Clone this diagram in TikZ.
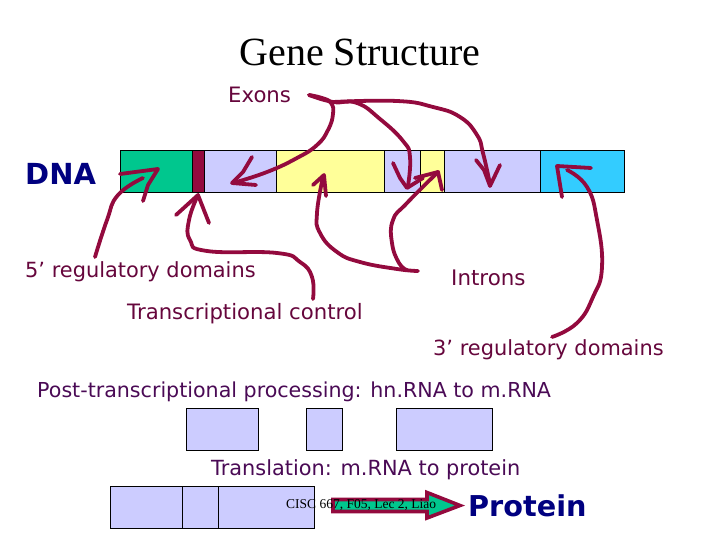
\documentclass[tikz,border=0pt]{standalone}
\usepackage{fontspec}
\setmainfont{DejaVu Sans}
\newfontfamily\serifface{Liberation Serif}
\definecolor{maroonink}{HTML}{930A3E}
\definecolor{labelmaroon}{HTML}{66063C}
\definecolor{labelplum}{HTML}{4A0A55}
\definecolor{exongreen}{HTML}{00C78E}
\definecolor{exonlav}{HTML}{CCCCFF}
\definecolor{intronyellow}{HTML}{FFFF99}
\definecolor{skyend}{HTML}{33CCFF}
\definecolor{navyink}{HTML}{000080}
\tikzset{
  seg/.style={draw=black,line width=0.9pt,minimum width=0pt,minimum height=0pt,inner sep=0pt,outer sep=0pt},
  ink/.style={draw=maroonink,line width=3.8pt,line cap=round,line join=round},
  lab/.style={inner sep=0pt,anchor=west},
}
\newcommand{\fs}[1]{\fontsize{#1}{#1}\selectfont}
\newcommand{\segbox}[6]{\node[seg,fill=#2,minimum width=#5-#3,minimum height=#6-#4,anchor=north west] (#1) at (#3,#4) {};}
\begin{document}
\begin{tikzpicture}[x=1pt,y=-1pt]
\useasboundingbox (0,0) rectangle (720,540);
% DNA bar
\segbox{g1}{exongreen}{120.5}{150.5}{192.5}{192.5}
\segbox{g2}{maroonink}{192.5}{150.5}{204.5}{192.5}
\segbox{g3}{exonlav}{204.5}{150.5}{276.5}{192.5}
\segbox{g4}{intronyellow}{276.5}{150.5}{384.5}{192.5}
\segbox{g5}{exonlav}{384.5}{150.5}{420.5}{192.5}
\segbox{g6}{intronyellow}{420.5}{150.5}{444.5}{192.5}
\segbox{g7}{exonlav}{444.5}{150.5}{540.5}{192.5}
\segbox{g8}{skyend}{540.5}{150.5}{624.5}{192.5}
% mRNA pieces
\segbox{m1}{exonlav}{186.5}{408.5}{258.5}{450.5}
\segbox{m2}{exonlav}{306.5}{408.5}{342.5}{450.5}
\segbox{m3}{exonlav}{396.5}{408.5}{492.5}{450.5}
\segbox{p1}{exonlav}{110.5}{486.5}{182.5}{528.5}
\segbox{p2}{exonlav}{182.5}{486.5}{218.5}{528.5}
\segbox{p3}{exonlav}{218.5}{486.5}{314.5}{528.5}
% labels
\node[inner sep=0pt] (title) at (360,52) {\serifface\fs{40}Gene Structure};
\node[lab,text=labelmaroon] (exons) at (228,94.5) {\fs{21.2}Exons};
\node[lab,text=navyink] (dna) at (25,174) {\fs{29}\bfseries DNA};
\node[lab,text=labelmaroon] (five) at (25,272) {\fs{20.9}5’ regulatory domains};
\node[lab,text=labelmaroon] (introns) at (451,278) {\fs{21.4}Introns};
\node[lab,text=labelmaroon] (tc) at (127,314) {\fs{21.2}Transcriptional control};
\node[lab,text=labelmaroon] (three) at (433,350) {\fs{20.9}3’ regulatory domains};
\node[lab,text=labelplum] (post) at (37,392) {\fs{20.6}Post-transcriptional processing: hn.RNA to m.RNA};
\node[lab,text=labelplum] (trans) at (211,470) {\fs{20.85}Translation: m.RNA to protein};
\node[lab,text=navyink] (prot) at (468,506) {\fs{28.7}\bfseries Protein};
% big arrow
\draw[draw=maroonink,fill=exongreen,line width=3.6pt,line join=miter]
  (333,499.5) -- (427,499.5) -- (427,492.5) -- (460,505.5) -- (427,518) -- (427,511.5) -- (333,511.5) -- cycle;
\node[lab,text=black] (foot) at (286,505) {\serifface\fs{13.5}CISC 667, F05, Lec 2, Liao};
% hand-drawn connectors
% Exons to the three exons
\draw[ink] plot[smooth,tension=0.8] coordinates {(309,95) (322,98) (331,103) (333,114) (328,130) (317,145) (297,158) (267,172) (233,183)};
\draw[ink] (252,157) -- (243,172) -- (232,183) -- (256,185);
\draw[ink] plot[smooth,tension=0.8] coordinates {(309,95) (333,102) (357,103) (380,119) (403,141) (410,157) (408,186)};
\draw[ink] (393,163) -- (400,178) -- (407,188) -- (423,178);
\draw[ink] plot[smooth,tension=0.8] coordinates {(333,102) (397,101) (433,107) (460,117) (477,135) (483,153) (490,184)};
\draw[ink] (476,160) -- (484,170) -- (490,186) -- (500,165);
% Introns
\draw[ink] plot[smooth,tension=0.8] coordinates {(418,271) (397,269) (360,262) (337,252) (320,233) (317,213) (323,177)};
\draw[ink] (313,185) -- (324,175) -- (326,196);
\draw[ink] plot[smooth,tension=0.8] coordinates {(407,270) (399,263) (392,243) (393,220) (407,203) (438,172)};
\draw[ink] (415,178) -- (438,172) -- (442,190);
% 3' regulatory
\draw[ink] plot[smooth,tension=0.8] coordinates {(552,337) (577,323) (593,297) (602,267) (597,220) (587,187) (567,170)};
\draw[ink] (591,168) -- (557,166) -- (562,197);
% 5' regulatory
\draw[ink] plot[smooth,tension=0.8] coordinates {(95,257) (107,220) (118,195) (143,178)};
\draw[ink] (120,174) -- (158,169) -- (148,185) -- (143,201);
% Transcriptional control
\draw[ink] plot[smooth,tension=0.8] coordinates {(313,299) (312,277) (300,262) (277,253) (207,251) (190,240) (189,220) (198,195)};
\draw[ink] (176,215) -- (198,195) -- (209,223);
\end{tikzpicture}
\end{document}
